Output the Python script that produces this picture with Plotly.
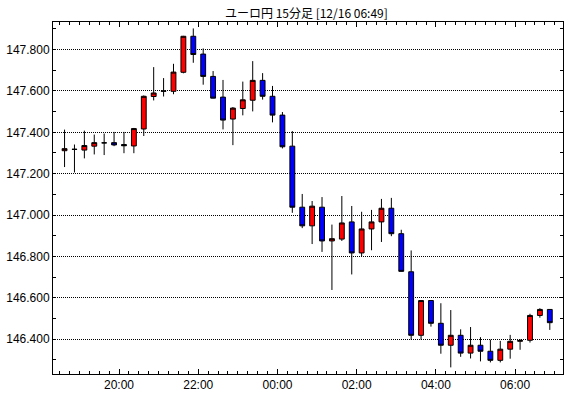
import pandas as pd
import plotly.graph_objects as go

times = [
    "2023-12-15 18:30", "2023-12-15 18:45", "2023-12-15 19:00", "2023-12-15 19:15",
    "2023-12-15 19:30", "2023-12-15 19:45", "2023-12-15 20:00", "2023-12-15 20:15",
    "2023-12-15 20:30", "2023-12-15 20:45", "2023-12-15 21:00", "2023-12-15 21:15",
    "2023-12-15 21:30", "2023-12-15 21:45", "2023-12-15 22:00", "2023-12-15 22:15",
    "2023-12-15 22:30", "2023-12-15 22:45", "2023-12-15 23:00", "2023-12-15 23:15",
    "2023-12-15 23:30", "2023-12-15 23:45", "2023-12-16 00:00", "2023-12-16 00:15",
    "2023-12-16 00:30", "2023-12-16 00:45", "2023-12-16 01:00", "2023-12-16 01:15",
    "2023-12-16 01:30", "2023-12-16 01:45", "2023-12-16 02:00", "2023-12-16 02:15",
    "2023-12-16 02:30", "2023-12-16 02:45", "2023-12-16 03:00", "2023-12-16 03:15",
    "2023-12-16 03:30", "2023-12-16 03:45", "2023-12-16 04:00", "2023-12-16 04:15",
    "2023-12-16 04:30", "2023-12-16 04:45", "2023-12-16 05:00", "2023-12-16 05:15",
    "2023-12-16 05:30", "2023-12-16 05:45", "2023-12-16 06:00", "2023-12-16 06:15",
    "2023-12-16 06:30", "2023-12-16 06:45",
]

opens = [
    147.311, 147.317, 147.314, 147.333, 147.349, 147.350, 147.341, 147.334, 147.416, 147.573,
    147.598, 147.598, 147.690, 147.864, 147.778, 147.670, 147.570, 147.464, 147.515, 147.555,
    147.651, 147.574, 147.483, 147.333, 147.038, 146.948, 147.038, 146.875, 146.884, 146.967,
    146.817, 146.933, 146.967, 147.033, 146.910, 146.726, 146.419, 146.587, 146.477, 146.371,
    146.419, 146.333, 146.371, 146.342, 146.298, 146.352, 146.390, 146.395, 146.515, 146.544,
]
highs = [
    147.413, 147.341, 147.408, 147.389, 147.394, 147.402, 147.402, 147.421, 147.578, 147.715,
    147.662, 147.731, 147.866, 147.902, 147.805, 147.696, 147.653, 147.522, 147.645, 147.744,
    147.686, 147.624, 147.498, 147.406, 147.102, 147.068, 147.087, 146.954, 147.092, 147.044,
    147.016, 147.025, 147.078, 147.083, 146.929, 146.829, 146.587, 146.588, 146.574, 146.541,
    146.448, 146.459, 146.410, 146.398, 146.392, 146.421, 146.400, 146.523, 146.550, 146.545,
]
lows = [
    147.232, 147.206, 147.274, 147.293, 147.290, 147.333, 147.299, 147.299, 147.382, 147.554,
    147.573, 147.584, 147.685, 147.736, 147.630, 147.564, 147.414, 147.338, 147.482, 147.501,
    147.558, 147.448, 147.322, 147.011, 146.937, 146.860, 146.822, 146.638, 146.875, 146.713,
    146.802, 146.830, 146.870, 146.898, 146.727, 146.398, 146.398, 146.461, 146.330, 146.264,
    146.315, 146.307, 146.293, 146.288, 146.288, 146.306, 146.349, 146.384, 146.504, 146.445,
]
closes = [
    147.321, 147.318, 147.336, 147.350, 147.349, 147.339, 147.335, 147.418, 147.574, 147.590,
    147.600, 147.691, 147.864, 147.776, 147.670, 147.565, 147.459, 147.517, 147.557, 147.651,
    147.574, 147.483, 147.330, 147.038, 146.948, 147.043, 146.875, 146.886, 146.962, 146.817,
    146.933, 146.967, 147.033, 146.910, 146.728, 146.419, 146.587, 146.477, 146.371, 146.419,
    146.333, 146.371, 146.342, 146.298, 146.352, 146.390, 146.394, 146.515, 146.544, 146.480,
]

title_text = "ユーロ円 15分足 [12/16 06:49]"

# candle drawn at the middle of its 15-minute interval
x_centers = pd.to_datetime(times) + pd.Timedelta(minutes=7.5)

fig = go.Figure(go.Candlestick(
    x=x_centers, open=opens, high=highs, low=lows, close=closes,
    increasing=dict(fillcolor="#FF0000", line=dict(color="#000000", width=1)),
    decreasing=dict(fillcolor="#0000FF", line=dict(color="#000000", width=1)),
    whiskerwidth=0,
    hoverinfo="skip",
))

fig.update_layout(
    width=570, height=398,
    margin=dict(l=49, r=6, t=22, b=21),
    paper_bgcolor="white", plot_bgcolor="white",
    showlegend=False,
    boxgap=0.3,
    title=dict(text=title_text, x=0.5375, xanchor="center", y=0.975, yanchor="top",
               font=dict(family="Noto Sans CJK JP", size=12, color="black")),
    font=dict(family="Liberation Sans", size=12, color="black"),
)

fig.update_xaxes(
    type="date",
    range=["2023-12-15 18:20", "2023-12-16 07:12:30"],
    rangeslider=dict(visible=False),
    tick0="2023-12-15 20:00", dtick=7200000, tickformat="%H:%M",
    ticks="inside", ticklen=5, tickcolor="black", tickwidth=1,
    minor=dict(tick0="2023-12-15 20:00", dtick=900000, ticks="inside", ticklen=3,
               tickcolor="black", tickwidth=1, showgrid=False),
    showline=True, linecolor="black", linewidth=1, mirror="allticks",
    showgrid=False, zeroline=False,
    tickfont=dict(family="Liberation Sans", size=12, color="black"),
)

fig.update_yaxes(
    range=[146.232, 147.933],
    tick0=146.4, dtick=0.2, tickformat=".3f",
    ticks="inside", ticklen=3, tickcolor="black", tickwidth=1,
    minor=dict(tick0=146.3, dtick=0.1, ticks="inside", ticklen=3,
               tickcolor="black", tickwidth=1, showgrid=False),
    showline=True, linecolor="black", linewidth=1, mirror="allticks",
    showgrid=True, gridcolor="black", gridwidth=1, griddash="1px,1px",
    zeroline=False,
    tickfont=dict(family="Liberation Sans", size=12, color="black"),
)

fig.write_html("out.html")
